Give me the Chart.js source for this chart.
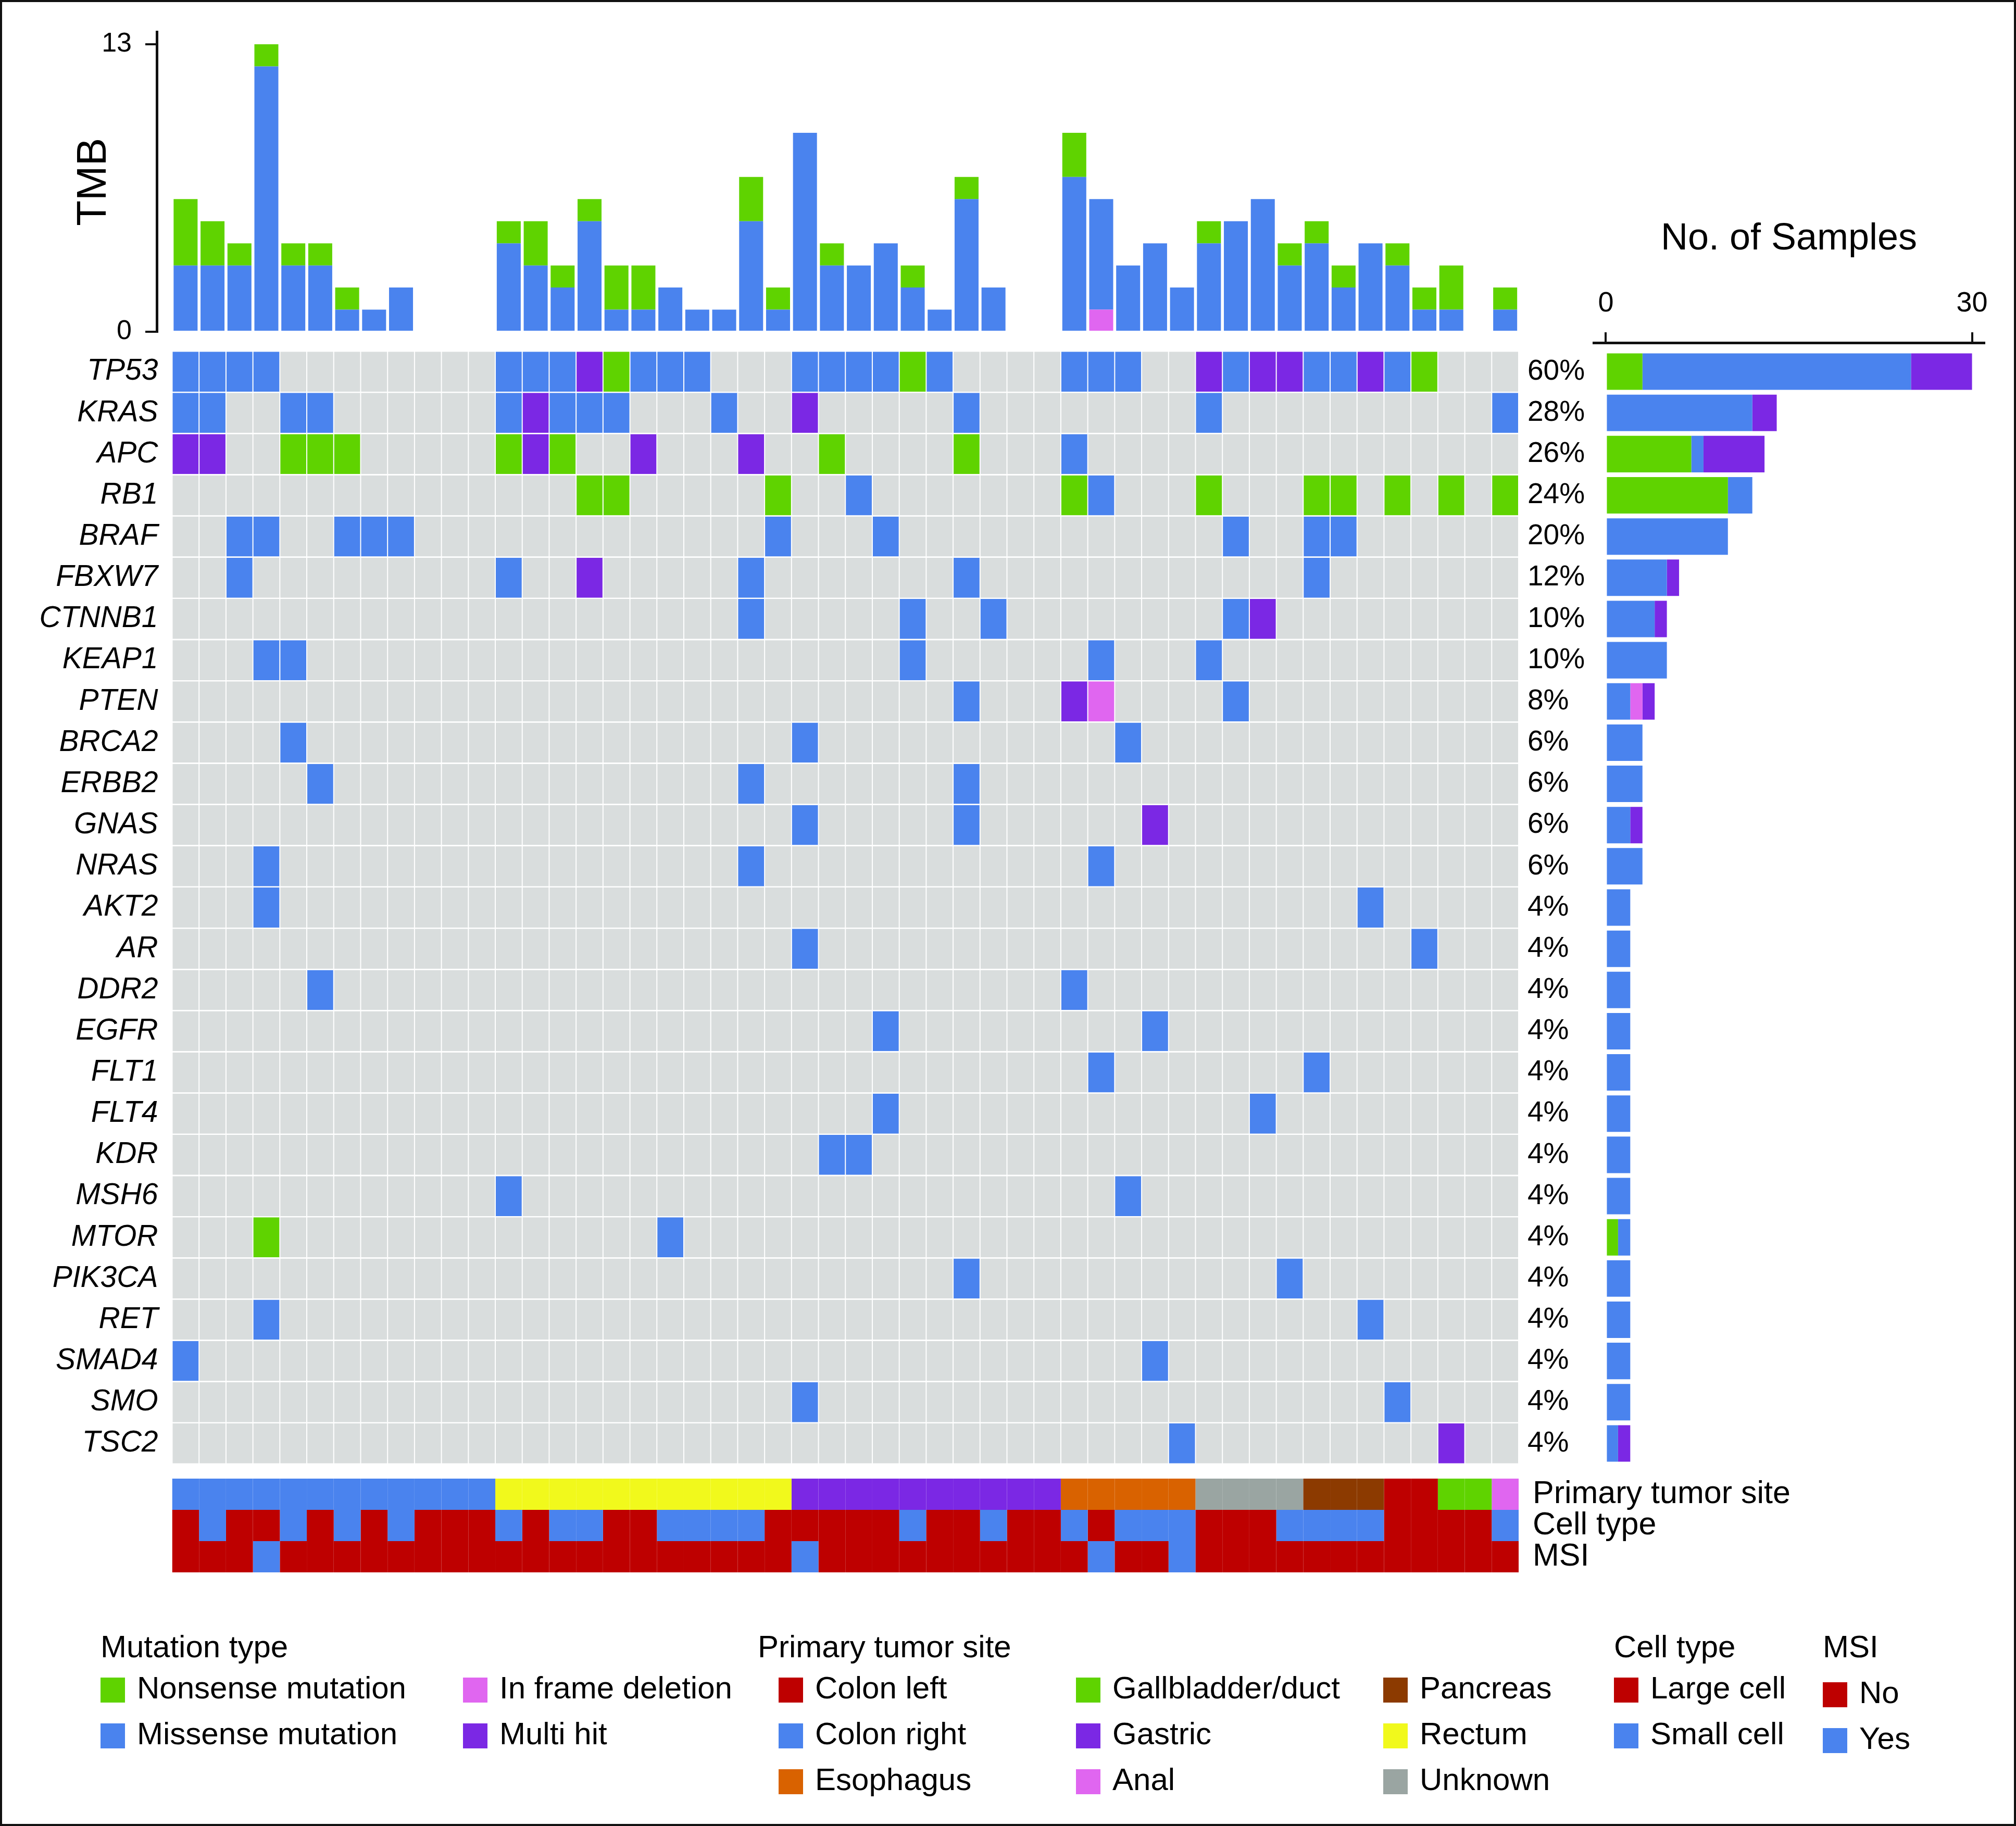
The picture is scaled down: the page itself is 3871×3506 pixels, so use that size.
<!DOCTYPE html>
<html>
<head>
<meta charset="utf-8">
<title>Oncoplot</title>
<script src="https://cdn.jsdelivr.net/npm/chart.js@4.4.1/dist/chart.umd.min.js"></script>
<style>
  html, body { margin: 0; padding: 0; background: #fff; }
  #page { position: relative; width: 3871px; height: 3506px; overflow: hidden; background: #fff;
          font-family: "Liberation Sans", Arial, Helvetica, sans-serif; color: #000; }
  .box { position: absolute; }
  .box canvas { display: block; }
  #frame { position: absolute; left: 0; top: 0; width: 3871px; height: 3506px; box-sizing: border-box;
           border: 4px solid #111; pointer-events: none; }
  .lg { position: absolute; font-size: 60px; line-height: 60px; white-space: nowrap; }
  .sw { position: absolute; width: 47px; height: 48px; }
</style>
</head>
<body>
<div id="page">
  <div class="box" style="left:0;top:0"><canvas id="tmb" width="2940" height="680"></canvas></div>
  <div class="box" style="left:0;top:660px"><canvas id="matrix" width="3060" height="2170"></canvas></div>
  <div class="box" style="left:0;top:2830px"><canvas id="tracks" width="3520" height="200"></canvas></div>
  <div class="box" style="left:3040px;top:380px"><canvas id="counts" width="800" height="2450"></canvas></div>
  <div id="legend"></div>
  <div id="frame"></div>
</div>
<script>
// ---- data ----
const genes = ['TP53','KRAS','APC','RB1','BRAF','FBXW7','CTNNB1','KEAP1','PTEN','BRCA2','ERBB2','GNAS','NRAS',
  'AKT2','AR','DDR2','EGFR','FLT1','FLT4','KDR','MSH6','MTOR','PIK3CA','RET','SMAD4','SMO','TSC2'];
const genePct = ['60%','28%','26%','24%','20%','12%','10%','10%','8%','6%','6%','6%','6%',
  '4%','4%','4%','4%','4%','4%','4%','4%','4%','4%','4%','4%','4%','4%'];

// one string per gene, one char per sample: . none, N nonsense, M missense, D in frame deletion, H multi hit
const mutRows = [
  'MMMM...... ..MMMHNMMM ...MMMMNM. ...MMM..HM HHMMHMN...',
  'MM..MM.... ..MHMMM... M..H.....M ........M. .........M',
  'HH..NNN... ..NHN..H.. .H..N....N ...M...... ..........',
  '.......... .....NN... ..N..M.... ...NM...N. ..NN.N.N.N',
  '..MM..MMM. .......... ..M...M... .........M ..MM......',
  '..M....... ..M..H.... .M.......M .......... ..M.......',
  '.......... .......... .M.....M.. M........M H.........',
  '...MM..... .......... .......M.. ....M...M. ..........',
  '.......... .......... .........M ...HD....M ..........',
  '....M..... .......... ...M...... .....M.... ..........',
  '.....M.... .......... .M.......M .......... ..........',
  '.......... .......... ...M.....M ......H... ..........',
  '...M...... .......... .M........ ....M..... ..........',
  '...M...... .......... .......... .......... ....M.....',
  '.......... .......... ...M...... .......... ......M...',
  '.....M.... .......... .......... ...M...... ..........',
  '.......... .......... ......M... ......M... ..........',
  '.......... .......... .......... ....M..... ..M.......',
  '.......... .......... ......M... .......... M.........',
  '.......... .......... ....MM.... .......... ..........',
  '.......... ..M....... .......... .....M.... ..........',
  '...N...... ........M. .......... .......... ..........',
  '.......... .......... .........M .......... .M........',
  '...M...... .......... .......... .......... ....M.....',
  'M......... .......... .......... ......M... ..........',
  '.......... .......... ...M...... .......... .....M....',
  '.......... .......... .......... .......M.. .......H..'
].map(r => r.replace(/ /g, ''));

// TMB per sample
const tmbMissense = [3,3,3,12,3,3,1,1,2,0, 0,0,4,3,2,5,1,1,2,1, 1,5,1,9,3,3,4,2,1,6, 2,0,0,7,5,3,4,2,4,5, 6,3,4,2,4,3,1,1,0,1];
const tmbNonsense = [3,2,1,1,1,1,1,0,0,0, 0,0,1,2,1,1,2,2,0,0, 0,2,1,0,1,0,0,1,0,1, 0,0,0,2,0,0,0,0,1,0, 0,1,1,1,0,1,1,2,0,1];
const tmbInframe  = [0,0,0,0,0,0,0,0,0,0, 0,0,0,0,0,0,0,0,0,0, 0,0,0,0,0,0,0,0,0,0, 0,0,0,0,1,0,0,0,0,0, 0,0,0,0,0,0,0,0,0,0];
const tmbTicks = [0, 13];

// samples per gene, by mutation type
const cntNonsense = [3,0,7,10,0,0,0,0,0,0,0,0,0,0,0,0,0,0,0,0,0,1,0,0,0,0,0];
const cntMissense = [22,12,1,2,10,5,4,5,2,3,3,2,3,2,2,2,2,2,2,2,2,1,2,2,2,2,1];
const cntInframe  = [0,0,0,0,0,0,0,0,1,0,0,0,0,0,0,0,0,0,0,0,0,0,0,0,0,0,0];
const cntMulti    = [5,2,5,0,0,1,1,0,1,0,0,1,0,0,0,0,0,0,0,0,0,0,0,0,0,0,1];
const countTicks = [0, 30];

// annotation tracks: r colon right, y rectum, g gastric, e esophagus, u unknown, p pancreas, l colon left, b gallbladder, a anal
const trackNames = ['Primary tumor site', 'Cell type', 'MSI'];
const siteRow = 'rrrrrrrrrr rryyyyyyyy yyyggggggg gggeeeeeuu uupppllbba'.replace(/ /g, '');
const cellRow = 'LSLLSLSLSL LLSLSSLLSS SSLLLLLSLL SLLSLSSSLL LSSSSLLLLS'.replace(/ /g, '');
const msiRow  = 'NNNYNNNNNN NNNNNNNNNN NNNYNNNNNN NNNNYNNYNN NNNNNNNNNN'.replace(/ /g, '');

// ---- colours ----
const C = { blue: '#4a83ee', green: '#5fd300', purple: '#7b28e4', pink: '#e066f0', red: '#be0000',
  orange: '#d96200', brown: '#8c3a00', yellow: '#f1f91c', gray: '#9aa5a2', cell: '#d9dddd' };
const mutColor = { '.': C.cell, N: C.green, M: C.blue, D: C.pink, H: C.purple };
const siteColor = { r: C.blue, y: C.yellow, g: C.purple, e: C.orange, u: C.gray, p: C.brown, l: C.red, b: C.green, a: C.pink };
const cellColor = { L: C.red, S: C.blue };
const msiColor = { N: C.red, Y: C.blue };

const nSamples = siteRow.length;
const samples = siteRow.split('').map((_, i) => 'S' + (i + 1));

Chart.defaults.font.family = '"Liberation Sans", Arial, Helvetica, sans-serif';
Chart.defaults.color = '#000';
Chart.defaults.animation = false;
Chart.defaults.plugins.legend.display = false;
Chart.defaults.plugins.tooltip.enabled = false;
Chart.defaults.elements.bar.inflateAmount = 0;
Chart.defaults.elements.bar.borderWidth = 0;

function fixY(w) { return s => { s.width = w; s.paddingTop = 0; s.paddingBottom = 0; }; }
function fixX(h) { return s => { s.height = h; s.paddingLeft = 0; s.paddingRight = 0; }; }
const noGrid = { display: false, drawTicks: false };
// empty axis used only as a spacer between a drawn axis and the plot
function spacer(pos, size, weight) {
  return { type: 'linear', position: pos, weight: weight, grid: noGrid, border: { display: false },
    ticks: { display: false }, afterFit: pos === 'top' ? fixX(size) : fixY(size) };
}

// ---- TMB bars on top ----
new Chart(document.getElementById('tmb'), {
  type: 'bar',
  data: {
    labels: samples,
    datasets: [
      { label: 'In frame deletion', data: tmbInframe, backgroundColor: C.pink, xAxisID: 'x', yAxisID: 'y' },
      { label: 'Missense mutation', data: tmbMissense, backgroundColor: C.blue, xAxisID: 'x', yAxisID: 'y' },
      { label: 'Nonsense mutation', data: tmbNonsense, backgroundColor: C.green, xAxisID: 'x', yAxisID: 'y' }
    ]
  },
  options: {
    responsive: false,
    layout: { padding: { left: 0, top: 61.7, right: 24, bottom: 43 } },
    datasets: { bar: { categoryPercentage: 1, barPercentage: 0.89 } },
    scales: {
      x: { type: 'category', stacked: true, display: false },
      y: {
        type: 'linear', position: 'left', weight: 1, min: 0, max: 13.55, stacked: true,
        afterBuildTicks: s => { s.ticks = tmbTicks.map(v => ({ value: v })); },
        grid: { drawOnChartArea: false, tickLength: 22, lineWidth: 4, color: '#111' },
        border: { display: true, width: 5, color: '#111' },
        ticks: { font: { size: 52 }, padding: 26 },
        title: { display: true, text: 'TMB', font: { size: 80 }, padding: { top: 133, bottom: 0 } },
        afterFit: fixY(301)
      },
      yPad: spacer('left', 29.5, 0)
    }
  }
});

// ---- mutation matrix ----
new Chart(document.getElementById('matrix'), {
  type: 'bar',
  data: {
    labels: genes,
    datasets: samples.map((s, j) => ({
      label: s,
      yAxisID: 'y',
      data: genes.map(() => 1),
      backgroundColor: genes.map((g, i) => mutColor[mutRows[i][j]]),
      borderColor: '#ffffff',
      borderWidth: { left: 1, right: 1, top: 0, bottom: 0 },
      borderSkipped: false
    }))
  },
  options: {
    responsive: false,
    indexAxis: 'y',
    layout: { padding: { left: 0, top: 14, right: 0, bottom: 19 } },
    datasets: { bar: { categoryPercentage: 1, barPercentage: 0.97 } },
    scales: {
      x: { type: 'linear', min: 0, max: nSamples, stacked: true, display: false },
      y: {
        type: 'category', position: 'left', stacked: true,
        grid: noGrid, border: { display: false },
        ticks: { font: { size: 57, style: 'italic' }, padding: 27, autoSkip: false },
        afterFit: fixY(330.5)
      },
      yPct: {
        type: 'category', labels: genePct, position: 'right', offset: true,
        grid: noGrid, border: { display: false },
        ticks: { font: { size: 55 }, padding: 17, autoSkip: false },
        afterFit: fixY(144)
      }
    }
  }
});

// ---- annotation tracks ----
const trackRows = [siteRow, cellRow, msiRow];
const trackColors = [siteColor, cellColor, msiColor];
new Chart(document.getElementById('tracks'), {
  type: 'bar',
  data: {
    labels: trackNames,
    datasets: samples.map((s, j) => ({
      label: s,
      data: trackNames.map(() => 1),
      backgroundColor: trackRows.map((row, t) => trackColors[t][row[j]])
    }))
  },
  options: {
    responsive: false,
    indexAxis: 'y',
    layout: { padding: { left: 330.5, top: 9, right: 0, bottom: 11 } },
    datasets: { bar: { categoryPercentage: 1, barPercentage: 1 } },
    scales: {
      x: { type: 'linear', min: 0, max: nSamples, stacked: true, display: false },
      y: {
        type: 'category', position: 'right', stacked: true,
        grid: noGrid, border: { display: false },
        ticks: { font: { size: 61 }, padding: 27, autoSkip: false },
        afterFit: fixY(604)
      }
    }
  }
});

// ---- No. of samples bars ----
new Chart(document.getElementById('counts'), {
  type: 'bar',
  data: {
    labels: genes,
    datasets: [
      { label: 'Nonsense mutation', data: cntNonsense, backgroundColor: C.green, xAxisID: 'x', yAxisID: 'y' },
      { label: 'Missense mutation', data: cntMissense, backgroundColor: C.blue, xAxisID: 'x', yAxisID: 'y' },
      { label: 'In frame deletion', data: cntInframe, backgroundColor: C.pink, xAxisID: 'x', yAxisID: 'y' },
      { label: 'Multi hit', data: cntMulti, backgroundColor: C.purple, xAxisID: 'x', yAxisID: 'y' }
    ]
  },
  options: {
    responsive: false,
    indexAxis: 'y',
    layout: { padding: { left: 20, top: 0, right: 30, bottom: 19 } },
    datasets: { bar: { categoryPercentage: 1, barPercentage: 0.885 } },
    scales: {
      x: {
        type: 'linear', position: 'top', weight: 1, min: -1, max: 31, stacked: true,
        afterBuildTicks: s => { s.ticks = countTicks.map(v => ({ value: v })); },
        grid: { drawOnChartArea: false, tickLength: 20, lineWidth: 4, color: '#111' },
        border: { display: true, width: 5, color: '#111' },
        ticks: { font: { size: 54 }, padding: 22, maxRotation: 0 },
        title: { display: true, text: 'No. of Samples', font: { size: 72 }, padding: { top: 36, bottom: 0 } },
        afterFit: fixX(278)
      },
      xPad: spacer('top', 16, 0),
      y: { type: 'category', stacked: true, display: false }
    }
  }
});

// ---- legend ----
const legendTitles = [['Mutation type', 193], ['Primary tumor site', 1455], ['Cell type', 3099], ['MSI', 3500]];
// label, colour, x, row, extra y shift
const legendItems = [
  ['Nonsense mutation', C.green, 193, 0, 0], ['Missense mutation', C.blue, 193, 1, 0],
  ['In frame deletion', C.pink, 889, 0, 0], ['Multi hit', C.purple, 889, 1, 0],
  ['Colon left', C.red, 1495, 0, 0], ['Colon right', C.blue, 1495, 1, 0], ['Esophagus', C.orange, 1495, 2, 0],
  ['Gallbladder/duct', C.green, 2066, 0, 0], ['Gastric', C.purple, 2066, 1, 0], ['Anal', C.pink, 2066, 2, 0],
  ['Pancreas', C.brown, 2656, 0, 0], ['Rectum', C.yellow, 2656, 1, 0], ['Unknown', C.gray, 2656, 2, 0],
  ['Large cell', C.red, 3099, 0, 0], ['Small cell', C.blue, 3099, 1, 0],
  ['No', C.red, 3500, 0, 9], ['Yes', C.blue, 3500, 1, 9]
];
const legend = document.getElementById('legend');
legendTitles.forEach(([t, x]) => {
  const d = document.createElement('div');
  d.className = 'lg';
  d.style.left = x + 'px';
  d.style.top = '3132px';
  d.textContent = t;
  legend.appendChild(d);
});
legendItems.forEach(([t, col, x, row, dy]) => {
  const top = 3221 + row * 88 + dy;
  const sw = document.createElement('div');
  sw.className = 'sw';
  sw.style.left = x + 'px';
  sw.style.top = top + 'px';
  sw.style.background = col;
  legend.appendChild(sw);
  const d = document.createElement('div');
  d.className = 'lg';
  d.style.left = (x + 70) + 'px';
  d.style.top = (top - 10) + 'px';
  d.textContent = t;
  legend.appendChild(d);
});
</script>
</body>
</html>
